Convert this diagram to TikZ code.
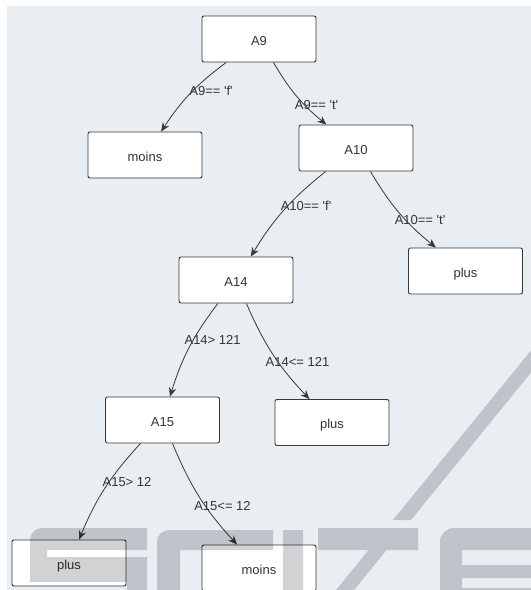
\documentclass[tikz,border=0pt]{standalone}
\usepackage{fontspec}
\setmainfont{Liberation Sans}
\usetikzlibrary{arrows.meta}
\definecolor{canvasbg}{RGB}{233,238,242}
\definecolor{ink}{RGB}{51,51,51}
\definecolor{frame}{RGB}{55,55,55}
\definecolor{wmgray}{RGB}{208,210,212}
\newcommand{\sq}{\textquotesingle}
\begin{document}
\begin{tikzpicture}[x=1pt,y=-1pt,
  box/.style={draw=frame, fill=white, rounded corners=2pt, line width=0.9pt,
    minimum width=114pt, minimum height=46pt, inner sep=0pt,
    text height=12pt, text depth=0pt, text=ink, font=\fontsize{13}{15}\selectfont},
  cond/.style={text=ink, inner sep=0pt, font=\fontsize{13}{15}\selectfont},
  edge/.style={draw=frame, line width=0.8pt,
    -{Stealth[length=9pt,width=7.5pt,inset=3pt]}, bend right=10},
]
\useasboundingbox (0,0) rectangle (531,590);
\fill[white] (0,0) rectangle (531,590);
\fill[canvasbg] (7,6) rectangle (531,590);

% decision tree nodes
\node[box] (a9)  at (259,39)    {A9};
\node[box] (m1)  at (145,155)   {moins};
\node[box] (a10) at (356,148)   {A10};
\node[box] (a14) at (236,280)   {A14};
\node[box] (p1)  at (465.5,271) {plus};
\node[box] (a15) at (162.5,420) {A15};
\node[box] (p2)  at (332,422.5) {plus};
\node[box] (p3)  at (69,563)    {plus};
\node[box] (m2)  at (259,568)   {moins};

% branches
\draw[edge] (a9)  to (m1);
\draw[edge] (a9)  to (a10);
\draw[edge] (a10) to (a14);
\draw[edge] (a10) to (p1);
\draw[edge] (a14) to (a15);
\draw[edge] (a14) to (p2);
\draw[edge] (a15) to (p3);
\draw[edge] (a15) to (m2);

% branch conditions
\node[cond] (c1) at (211,91)    {A9== \sq f\sq};
\node[cond] (c2) at (316.5,105) {A9== \sq t\sq};
\node[cond] (c3) at (306,206)   {A10== \sq f\sq};
\node[cond] (c4) at (420,220)   {A10== \sq t\sq};
\node[cond] (c5) at (212.6,340) {A14> 121};
\node[cond] (c6) at (297.5,362) {A14<= 121};
\node[cond] (c7) at (127,482)   {A15> 12};
\node[cond] (c8) at (222.5,506) {A15<= 12};

% publisher watermark, multiplied over everything
\begin{scope}[blend mode=multiply]
\fill[wmgray]
  % S
  (147,528) [rounded corners=12pt] -- (30,528) [sharp corners] -- (30,582) -- (127,582)
    -- (127,595) -- (147,595) -- (147,557) -- (47,557) -- (47,550) -- (147,550) -- cycle
  % C
  (273,530) [rounded corners=12pt] -- (157,530) [sharp corners] -- (157,595) -- (180,595)
    -- (180,550) -- (273,550) -- cycle
  % I
  (283,530) -- (283,595) -- (303,595) -- (303,530) -- cycle
  % T bar and slanted stem
  (318,528) -- (318,550) -- (418,550) -- (418,528) -- cycle
  (368.6,550) -- (332,595) -- (350,595) -- (386.6,550) -- cycle
  % slash
  (393,520) -- (411,520) -- (557.5,340) -- (539.5,340) -- cycle
  % E
  (540,528) [rounded corners=14pt] -- (440,528) [sharp corners] -- (440,595) -- (540,595)
    -- (540,588) -- (462,588) -- (462,578) -- (540,578) -- (540,565) -- (462,565)
    -- (462,550) -- (540,550) -- cycle;
\end{scope}
\end{tikzpicture}
\end{document}
